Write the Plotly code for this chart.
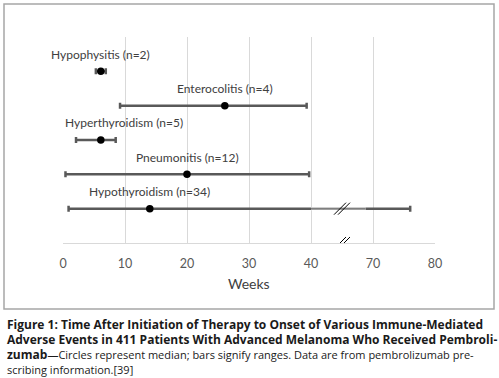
import plotly.graph_objects as go

# ---- data (weeks) ----
events = ["Hypophysitis (n=2)", "Enterocolitis (n=4)", "Hyperthyroidism (n=5)",
          "Pneumonitis (n=12)", "Hypothyroidism (n=34)"]
median_weeks = [6.1, 26.1, 6.1, 20.0, 14.0]
min_weeks = [5.3, 9.2, 2.1, 0.4, 0.9]
max_weeks = [6.9, 39.3, 8.5, 39.7, 76.0]
tick_weeks = [0, 10, 20, 30, 40, 70, 80]
row_pos = [5, 4, 3, 2, 1]

# broken axis: 40..70 weeks compressed into one tick interval
BREAK_LO, BREAK_HI = 40, 70
BREAK_MARK_WEEKS = 55
BREAK_FADE_END = 66.5


def to_axis(v):
    if v <= BREAK_LO:
        return v
    if v <= BREAK_HI:
        return BREAK_LO + (v - BREAK_LO) * 10.0 / (BREAK_HI - BREAK_LO)
    return BREAK_LO + 10 + (v - BREAK_HI)


med_u = [to_axis(v) for v in median_weeks]
lo_u = [to_axis(v) for v in min_weeks]
hi_u = [to_axis(v) for v in max_weeks]

BAR = "#595959"
GRID = "#d9d9d9"
TEXT = "#404040"
FONT = "Lato, 'Open Sans', sans-serif"

fig = go.Figure()
fig.add_trace(go.Scatter(
    x=med_u, y=row_pos, mode="markers",
    marker=dict(color="black", size=7.5),
    error_x=dict(type="data", symmetric=False,
                 array=[h - m for h, m in zip(hi_u, med_u)],
                 arrayminus=[m - l for m, l in zip(med_u, lo_u)],
                 color=BAR, thickness=2.5, width=3),
    showlegend=False, hoverinfo="skip"))

# lighter segment of the long bar inside the axis break
fade_x = [to_axis(BREAK_LO), to_axis(BREAK_FADE_END)]
fig.add_trace(go.Scatter(x=fade_x, y=[row_pos[4]] * 2, mode="lines",
                         line=dict(color="white", width=3), showlegend=False, hoverinfo="skip"))
fig.add_trace(go.Scatter(x=fade_x, y=[row_pos[4]] * 2, mode="lines",
                         line=dict(color="#7f7f7f", width=2), showlegend=False, hoverinfo="skip"))

# labels above each bar
for name, m, r in zip(events, med_u, row_pos):
    if name.startswith("Hyperthyroidism"):
        fig.add_annotation(x=0, y=r + 0.5, text=name, showarrow=False,
                           xanchor="left", yanchor="middle",
                           font=dict(family=FONT, size=12, color=TEXT))
    else:
        fig.add_annotation(x=m, y=r + 0.5, text=name, showarrow=False,
                           xanchor="center", yanchor="middle",
                           font=dict(family=FONT, size=12, color=TEXT))

# break marks "//"
mx = to_axis(BREAK_MARK_WEEKS)
for yy in [row_pos[4], 0]:
    for dx in [-2, 2]:
        fig.add_shape(type="line", xref="x", yref="y", xsizemode="pixel", ysizemode="pixel",
                      xanchor=mx, yanchor=yy, x0=dx - 6, x1=dx + 6, y0=-6, y1=6,
                      line=dict(color="black", width=1), layer="above")

W, H = 499, 378
L, R, T, B = 63, 435, 37, 243


def px(x):
    return (x - L) / (R - L)


def py(y):
    return (B - y) / (B - T)


# axis title
fig.add_annotation(x=0.5, y=py(283), xref="paper", yref="paper", text="Weeks",
                   showarrow=False, xanchor="center", yanchor="middle",
                   font=dict(family=FONT, size=14, color=TEXT))

# outer frame
fig.add_shape(type="rect", xref="paper", yref="paper",
              x0=px(4), x1=px(494), y0=py(309), y1=py(4),
              line=dict(color="#a6a6a6", width=1.5), layer="above")

# caption
CAP = "'Open Sans', sans-serif"
cap_lines = [
    "<b>Figure 1: Time After Initiation of Therapy to Onset of Various Immune-Mediated</b>",
    "<b>Adverse Events in 411 Patients With Advanced Melanoma Who Received Pembroli-</b>",
    "<b>zumab</b><span style='font-size:11px'>—Circles represent median; bars signify ranges. Data are from pembrolizumab pre-</span>",
    "<span style='font-size:11px'>scribing information.[39]</span>",
]
cap_sizes = [12, 12, 12, 12]
for i, (t, s) in enumerate(zip(cap_lines, cap_sizes)):
    fig.add_annotation(x=px(5), y=py(324 + 15.3 * i), xref="paper", yref="paper",
                       text=t, showarrow=False, xanchor="left", yanchor="middle",
                       font=dict(family=CAP, size=s, color="#1a1a1a"))

fig.update_xaxes(range=[0, 60], tickvals=[to_axis(v) for v in tick_weeks],
                 ticktext=[str(v) for v in tick_weeks],
                 showgrid=True, gridcolor=GRID, gridwidth=1,
                 showline=True, linecolor=GRID, linewidth=1, zeroline=False,
                 ticks="", ticklabelstandoff=9,
                 tickfont=dict(family=FONT, size=12.5, color="#595959"))
fig.update_yaxes(range=[0, 6], visible=False, showgrid=False, zeroline=False)

fig.update_layout(width=W, height=H, margin=dict(l=L, r=W - R, t=T, b=H - B),
                  plot_bgcolor="white", paper_bgcolor="white")

fig.write_html("out.html", config={"displayModeBar": False},
               post_script="document.body.style.margin='0';")
